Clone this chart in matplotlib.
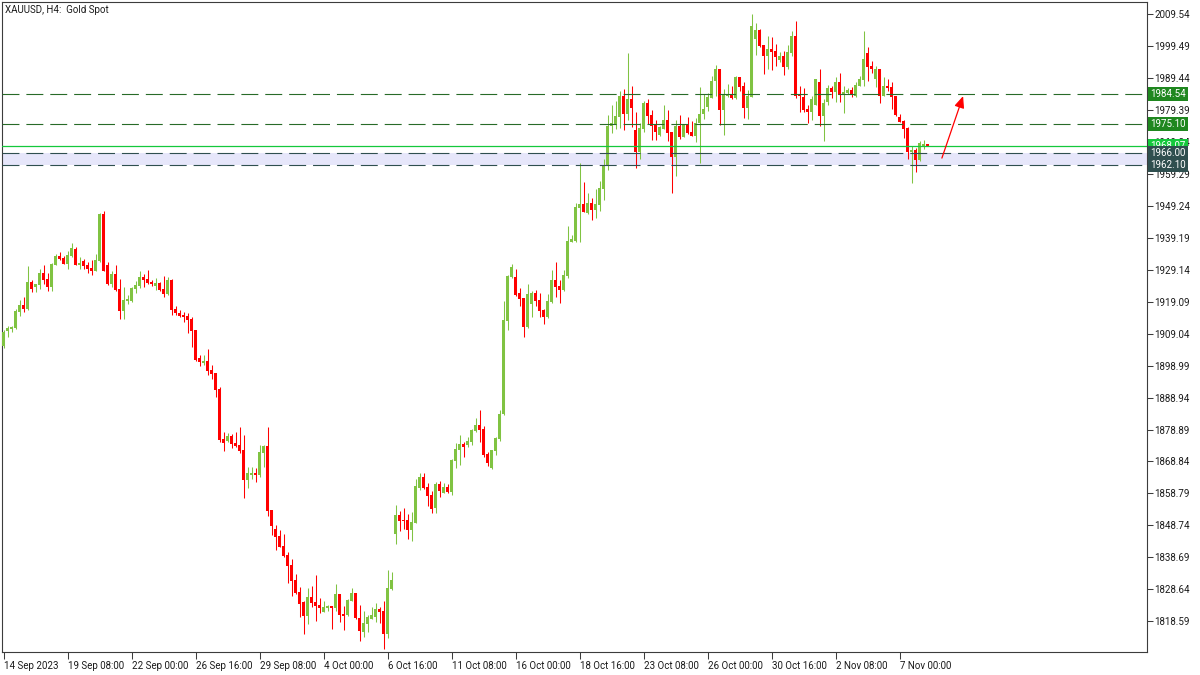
import matplotlib
matplotlib.use("Agg")
import matplotlib.pyplot as plt
from matplotlib.transforms import blended_transform_factory
import numpy as np

plt.rcParams['font.family'] = ['Roboto', 'DejaVu Sans']
plt.rcParams['lines.scale_dashes'] = False

# ---------------- data (XAUUSD H4) ----------------
opens = [
    1905.2, 1909.9, 1910.5, 1910.8, 1915.9, 1918.0, 1916.8, 1925.3, 1923.7, 1924.4,
    1928.1, 1926.3, 1923.7, 1930.7, 1933.5, 1932.9, 1931.0, 1933.5, 1935.7, 1930.7,
    1931.9, 1930.7, 1929.7, 1928.8, 1931.9, 1946.7, 1930.7, 1924.7, 1927.8, 1923.1,
    1916.2, 1919.3, 1919.3, 1923.1, 1924.0, 1926.9, 1926.3, 1925.3, 1924.0, 1925.0,
    1923.1, 1921.5, 1925.9, 1916.8, 1915.5, 1914.9, 1914.6, 1913.7, 1910.2, 1901.4,
    1899.8, 1900.4, 1897.6, 1896.7, 1891.6, 1875.9, 1875.3, 1876.8, 1874.6, 1874.0,
    1872.4, 1863.0, 1864.6, 1865.2, 1864.6, 1871.5, 1873.7, 1853.6, 1847.6, 1845.4,
    1842.2, 1839.4, 1836.3, 1831.5, 1827.8, 1824.6, 1820.2, 1826.2, 1824.6, 1823.7,
    1821.5, 1822.7, 1823.4, 1822.7, 1827.1, 1820.8, 1820.5, 1824.9, 1827.4, 1819.6,
    1815.2, 1817.7, 1819.3, 1819.9, 1822.4, 1821.8, 1814.5, 1828.7, 1846.0, 1852.0,
    1850.4, 1850.4, 1847.3, 1849.5, 1860.5, 1863.9, 1860.8, 1858.3, 1854.2, 1861.7,
    1858.9, 1860.8, 1859.2, 1869.0, 1872.4, 1874.3, 1874.0, 1875.0, 1878.4, 1880.3,
    1879.0, 1871.2, 1866.8, 1872.1, 1875.9, 1883.8, 1913.0, 1926.9, 1926.9, 1921.8,
    1920.3, 1911.1, 1918.4, 1921.8, 1919.6, 1916.5, 1914.3, 1919.0, 1925.9, 1924.0,
    1922.8, 1927.2, 1937.9, 1938.2, 1948.6, 1949.8, 1947.0, 1950.2, 1948.0, 1949.5,
    1954.6, 1961.8, 1974.4, 1974.7, 1977.2, 1983.8, 1978.2, 1982.9, 1973.1, 1966.2,
    1973.4, 1981.6, 1977.8, 1974.7, 1971.6, 1973.4, 1976.3, 1972.5, 1964.6, 1974.4,
    1970.9, 1974.7, 1972.5, 1971.2, 1975.3, 1978.2, 1980.4, 1983.2, 1988.5, 1992.3,
    1979.4, 1983.8, 1984.1, 1983.2, 1989.8, 1987.0, 1980.0, 1983.5, 2001.8, 2004.6,
    1999.9, 1996.4, 1998.6, 1998.0, 1995.2, 1996.4, 1993.0, 1997.4, 2002.7, 1984.4,
    1983.5, 1979.7, 1978.8, 1981.0, 1988.2, 1977.5, 1981.9, 1986.3, 1985.1, 1988.2,
    1984.1, 1984.8, 1985.7, 1983.8, 1987.0, 1988.9, 1997.4, 1993.3, 1989.2, 1992.3,
    1983.8, 1987.0, 1986.7, 1983.8, 1977.2, 1976.0, 1973.8, 1966.2, 1966.8, 1963.7,
    1967.8, 1968.8,
]
highs = [
    1910.2, 1911.5, 1911.5, 1916.8, 1919.6, 1920.6, 1930.3, 1925.9, 1924.7, 1929.4,
    1930.7, 1928.1, 1931.3, 1934.1, 1934.7, 1933.5, 1935.1, 1937.6, 1936.3, 1933.2,
    1932.5, 1931.6, 1932.2, 1934.1, 1947.0, 1947.6, 1931.6, 1928.8, 1930.7, 1926.3,
    1923.7, 1921.2, 1923.7, 1925.6, 1928.8, 1927.8, 1929.1, 1925.9, 1926.6, 1925.3,
    1927.2, 1926.9, 1926.3, 1917.8, 1916.5, 1915.9, 1915.5, 1914.3, 1910.2, 1902.3,
    1902.3, 1904.2, 1899.2, 1896.7, 1892.3, 1878.1, 1877.8, 1877.5, 1878.1, 1879.7,
    1877.2, 1867.1, 1867.1, 1866.8, 1874.0, 1874.0, 1879.7, 1853.6, 1848.8, 1847.3,
    1846.0, 1840.4, 1838.1, 1833.4, 1829.3, 1824.9, 1829.0, 1829.6, 1833.1, 1825.9,
    1824.9, 1823.7, 1823.4, 1830.3, 1827.1, 1823.4, 1825.6, 1829.0, 1827.4, 1823.7,
    1821.8, 1820.5, 1823.0, 1824.3, 1823.0, 1824.9, 1834.7, 1834.0, 1855.1, 1853.3,
    1854.2, 1852.3, 1852.9, 1863.3, 1865.2, 1865.2, 1862.1, 1859.5, 1862.4, 1862.7,
    1862.1, 1861.7, 1869.6, 1874.6, 1877.2, 1875.0, 1876.5, 1879.0, 1882.5, 1885.0,
    1880.0, 1871.8, 1872.4, 1876.5, 1885.0, 1919.3, 1927.5, 1931.0, 1929.4, 1923.4,
    1920.3, 1924.7, 1922.5, 1922.8, 1921.8, 1916.8, 1921.5, 1929.1, 1931.6, 1925.9,
    1929.1, 1942.9, 1940.1, 1950.2, 1962.7, 1956.8, 1953.3, 1951.7, 1954.6, 1957.1,
    1964.0, 1977.9, 1981.0, 1982.3, 1985.4, 1986.0, 1997.4, 1987.0, 1978.8, 1975.3,
    1982.3, 1982.9, 1979.4, 1976.3, 1974.4, 1981.0, 1979.4, 1972.5, 1976.3, 1977.8,
    1975.0, 1977.2, 1976.0, 1976.9, 1986.7, 1984.5, 1984.8, 1990.1, 1993.6, 1992.3,
    1986.0, 1987.6, 1987.0, 1990.1, 1989.8, 1988.2, 1985.7, 2009.6, 2006.8, 2004.9,
    1999.9, 2002.7, 2002.4, 2000.2, 1997.7, 1998.0, 1999.9, 2004.3, 2007.4, 1987.0,
    1986.3, 1981.0, 1983.8, 1989.2, 1992.3, 1982.9, 1987.3, 1987.0, 1989.8, 1991.1,
    1987.0, 1986.3, 1986.7, 1988.2, 1990.1, 2004.3, 1999.3, 1994.8, 1993.3, 1992.3,
    1989.8, 1989.2, 1988.2, 1983.8, 1978.2, 1976.3, 1974.1, 1968.1, 1967.4, 1969.7,
    1970.0, 1968.8,
]
lows = [
    1904.5, 1908.0, 1909.6, 1910.5, 1914.6, 1915.9, 1916.5, 1922.2, 1922.2, 1923.1,
    1924.7, 1922.5, 1922.5, 1930.7, 1932.2, 1931.0, 1929.4, 1933.2, 1930.7, 1929.4,
    1929.4, 1928.1, 1927.5, 1928.8, 1931.6, 1928.8, 1924.4, 1923.7, 1922.5, 1913.7,
    1913.7, 1918.4, 1919.0, 1921.8, 1923.4, 1923.7, 1924.7, 1924.0, 1922.8, 1922.5,
    1920.6, 1921.2, 1914.9, 1914.9, 1914.3, 1912.7, 1909.2, 1904.9, 1900.4, 1898.9,
    1899.2, 1896.0, 1894.8, 1889.1, 1875.0, 1872.1, 1875.0, 1873.1, 1873.4, 1871.5,
    1857.3, 1860.5, 1863.3, 1862.4, 1863.9, 1867.1, 1851.7, 1845.7, 1841.0, 1841.9,
    1838.8, 1830.6, 1826.5, 1827.1, 1819.9, 1814.5, 1817.7, 1823.0, 1818.6, 1821.2,
    1821.5, 1821.8, 1816.1, 1821.8, 1818.4, 1815.8, 1820.2, 1824.9, 1819.3, 1812.3,
    1813.6, 1815.2, 1819.3, 1818.3, 1818.0, 1809.8, 1813.3, 1828.4, 1842.9, 1847.0,
    1847.6, 1844.4, 1843.8, 1849.5, 1859.9, 1860.2, 1854.8, 1852.6, 1852.6, 1857.6,
    1858.9, 1858.9, 1858.3, 1866.8, 1867.7, 1870.2, 1873.4, 1874.0, 1878.1, 1875.0,
    1870.2, 1867.4, 1866.5, 1870.9, 1875.3, 1883.4, 1910.2, 1926.6, 1920.9, 1917.8,
    1908.0, 1910.8, 1914.3, 1917.8, 1914.3, 1912.1, 1914.0, 1918.7, 1920.6, 1918.7,
    1922.5, 1926.6, 1937.9, 1937.9, 1937.9, 1947.3, 1946.7, 1944.8, 1945.4, 1947.6,
    1951.1, 1960.5, 1972.2, 1973.4, 1973.8, 1973.1, 1976.3, 1974.1, 1961.2, 1964.0,
    1972.5, 1975.0, 1970.0, 1970.0, 1971.2, 1973.4, 1969.7, 1953.3, 1958.6, 1970.3,
    1970.9, 1971.9, 1971.2, 1969.4, 1962.7, 1976.6, 1979.1, 1983.2, 1983.8, 1974.7,
    1971.6, 1983.5, 1982.9, 1982.9, 1985.4, 1976.9, 1976.6, 1983.5, 1996.7, 1999.2,
    1990.8, 1992.3, 1992.0, 1993.3, 1994.5, 1990.4, 1992.3, 1996.4, 1983.2, 1978.8,
    1978.8, 1975.3, 1976.3, 1981.0, 1974.4, 1969.7, 1981.0, 1983.2, 1981.9, 1981.9,
    1978.5, 1984.4, 1983.5, 1983.5, 1987.0, 1987.0, 1988.5, 1991.1, 1986.6, 1981.6,
    1983.8, 1985.4, 1979.7, 1977.5, 1975.6, 1970.6, 1964.0, 1956.4, 1959.9, 1963.4,
    1967.1, 1968.0,
]
closes = [
    1909.6, 1910.8, 1911.1, 1916.2, 1918.0, 1916.8, 1925.3, 1923.1, 1924.7, 1928.1,
    1925.9, 1923.7, 1931.0, 1933.5, 1932.5, 1931.0, 1933.8, 1936.0, 1930.7, 1931.3,
    1930.3, 1929.4, 1928.8, 1932.2, 1946.7, 1928.8, 1924.7, 1927.8, 1922.8, 1916.2,
    1919.6, 1920.0, 1923.4, 1924.4, 1926.9, 1925.9, 1925.0, 1924.7, 1925.0, 1922.8,
    1921.5, 1925.9, 1916.5, 1915.5, 1914.6, 1914.3, 1913.4, 1909.9, 1900.8, 1900.1,
    1900.4, 1897.3, 1896.3, 1891.3, 1875.6, 1874.6, 1876.8, 1874.3, 1873.7, 1872.1,
    1863.0, 1865.2, 1865.2, 1864.6, 1871.8, 1873.7, 1853.3, 1848.5, 1845.1, 1841.9,
    1839.1, 1835.9, 1831.2, 1827.4, 1824.0, 1820.2, 1826.2, 1824.3, 1823.4, 1822.7,
    1823.0, 1823.4, 1822.7, 1827.1, 1820.5, 1820.2, 1825.2, 1827.4, 1819.6, 1815.5,
    1818.0, 1819.9, 1820.5, 1822.4, 1821.5, 1814.5, 1829.0, 1831.5, 1852.0, 1850.1,
    1850.1, 1847.3, 1849.8, 1861.1, 1863.9, 1860.5, 1857.9, 1853.9, 1861.7, 1859.5,
    1860.8, 1859.2, 1869.3, 1872.8, 1874.3, 1873.4, 1875.3, 1878.7, 1880.3, 1878.7,
    1870.9, 1868.4, 1872.4, 1876.2, 1883.8, 1913.4, 1927.2, 1930.0, 1921.2, 1920.0,
    1911.1, 1921.5, 1921.8, 1919.3, 1916.2, 1914.3, 1919.3, 1925.9, 1923.7, 1922.8,
    1927.5, 1938.2, 1938.8, 1948.9, 1949.8, 1947.3, 1950.2, 1948.0, 1949.8, 1954.9,
    1962.1, 1974.4, 1975.3, 1977.5, 1983.8, 1978.2, 1982.9, 1980.0, 1966.2, 1973.8,
    1981.6, 1977.5, 1974.4, 1972.5, 1974.1, 1976.3, 1972.2, 1964.6, 1974.4, 1970.9,
    1974.7, 1972.2, 1971.2, 1975.3, 1978.2, 1979.7, 1983.5, 1988.5, 1992.3, 1979.4,
    1984.4, 1984.4, 1983.2, 1989.8, 1986.6, 1980.0, 1983.8, 2005.9, 2004.6, 1999.6,
    1996.4, 1998.6, 1997.7, 1996.1, 1996.4, 1993.0, 1997.7, 2002.7, 1983.8, 1983.8,
    1979.4, 1978.8, 1982.9, 1989.2, 1977.5, 1981.6, 1986.3, 1985.1, 1988.2, 1984.1,
    1985.1, 1985.7, 1984.1, 1987.3, 1989.2, 1995.5, 1993.0, 1992.3, 1992.3, 1983.8,
    1987.0, 1986.3, 1983.5, 1977.8, 1975.6, 1973.4, 1966.2, 1966.8, 1963.7, 1969.0,
    1968.7, 1968.07,
]

x_tick_labels = ['14 Sep 2023', '19 Sep 08:00', '22 Sep 00:00', '26 Sep 16:00',
                 '29 Sep 08:00', '4 Oct 00:00', '6 Oct 16:00', '11 Oct 08:00',
                 '16 Oct 00:00', '18 Oct 16:00', '23 Oct 08:00', '26 Oct 00:00',
                 '30 Oct 16:00', '2 Nov 08:00', '7 Nov 00:00']
x_tick_step = 16  # bars between time labels

y_tick_values = [1818.59, 1828.64, 1838.69, 1848.74, 1858.79, 1868.84, 1878.89,
                 1888.94, 1898.99, 1909.04, 1919.09, 1929.14, 1939.19, 1949.24,
                 1959.29, 1969.34, 1979.39, 1989.44, 1999.49, 2009.54]

resistance_levels = [1984.54, 1975.10]
support_levels = [1966.00, 1962.10]
bid_price = 1968.07
arrow_start = (234.6, 1964.3)
arrow_end = (239.9, 1983.8)

# ---------------- style ----------------
GREEN = '#80C342'
RED = '#FF0000'
RES_LINE = '#286B28'
RES_BOX = '#1F871F'
SUP_COL = '#2F4F4F'
BID_COL = '#14C83C'
BAND_COL = '#E6E6FA'
FRAME = '#3C3C3C'
TXT = '#1A1A1A'

W, H = 1200, 675
fig = plt.figure(figsize=(W / 100, H / 100), dpi=100)
fig.patch.set_facecolor('white')
L, R, T, B = 2, 1147, 2, 652
ax = fig.add_axes([L / W, 1 - B / H, (R - L) / W, (B - T) / H])
ax.set_facecolor('white')
ax.set_xlim(-0.375, 285.875)
ax.set_ylim(1808.88, 2013.41)

o = np.array(opens)
h = np.array(highs)
l = np.array(lows)
c = np.array(closes)
idx = np.arange(len(o))
cols = np.where(c >= o, GREEN, RED)

# support zone
ax.axhspan(min(support_levels), max(support_levels), color=BAND_COL, lw=0, zorder=1)

# candles
ax.vlines(idx, l, h, colors=cols, linewidth=0.75, zorder=3)
body = np.maximum(np.abs(c - o), 0.32)
ax.bar(idx, body, bottom=np.minimum(o, c), width=0.75, color=cols, linewidth=0, zorder=3)

# levels
dash = (0, (12.2, 5.0))
for lv in resistance_levels:
    ax.axhline(lv, color=RES_LINE, lw=0.8, ls=dash, zorder=4)
for lv in support_levels:
    ax.axhline(lv, color=SUP_COL, lw=0.8, ls=dash, zorder=4)
ax.axhline(bid_price, color=BID_COL, lw=0.9, zorder=4)

# arrow
ax.annotate('', xy=arrow_end, xytext=arrow_start,
            arrowprops=dict(arrowstyle='-|>,head_length=0.7,head_width=0.3',
                            color=RED, lw=0.9, shrinkA=0, shrinkB=0), zorder=5)

# axes styling
for s in ax.spines.values():
    s.set_color(FRAME)
    s.set_linewidth(0.8)
ax.yaxis.tick_right()
ax.set_yticks(y_tick_values)
ax.set_yticklabels([f'{v:.2f}' for v in y_tick_values])
ax.tick_params(axis='y', direction='out', length=4, width=0.75, pad=1.5,
               labelsize=7, colors=FRAME, labelcolor=TXT)
xt = [i * x_tick_step for i in range(len(x_tick_labels))]
ax.set_xticks(xt)
ax.set_xticklabels(x_tick_labels, ha='left')
ax.tick_params(axis='x', direction='out', length=5, width=0.75, pad=1.5,
               labelsize=7, colors=FRAME, labelcolor=TXT)
for lab in ax.get_xticklabels():
    lab.set_horizontalalignment('left')

# price boxes on the right axis
trans = blended_transform_factory(ax.transAxes, ax.transData)


def price_box(val, fc, z):
    ax.annotate(f'{val:.2f}', xy=(1.0, val), xycoords=trans, xytext=(3, 0),
                textcoords='offset pixels', ha='left', va='center', fontsize=7,
                color='white', annotation_clip=False, zorder=z,
                bbox=dict(boxstyle='square,pad=0.22', fc=fc, ec='none'))


price_box(bid_price, BID_COL, 10)
for lv in resistance_levels:
    price_box(lv, RES_BOX, 11)
for lv in support_levels:
    price_box(lv, SUP_COL, 12)

fig.text(5 / W, 1 - 10 / H, 'XAUUSD, H4:  Gold Spot', fontsize=7, color=TXT,
         ha='left', va='center')

fig.savefig('out.png', dpi=100, facecolor='white')
